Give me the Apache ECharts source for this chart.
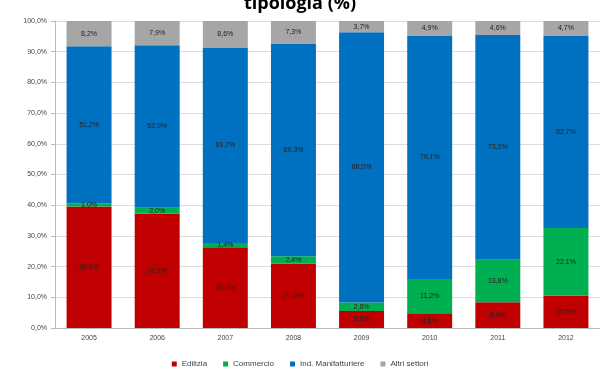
<!DOCTYPE html>
<html><head><meta charset="utf-8">
<script src="https://cdn.jsdelivr.net/npm/echarts@6/dist/echarts.min.js"></script>
<style>html,body{margin:0;padding:0;background:#fff}#c{width:600px;height:370px}</style>
</head><body><div id="c"></div>
<script>
const years = ['2005','2006','2007','2008','2009','2010','2011','2012'];
const edilizia = [39.6, 37.2, 26.3, 21.0, 5.5, 4.8, 8.4, 10.5];
const commercio = [1.0, 2.0, 1.4, 2.4, 2.8, 11.2, 13.8, 22.1];
const manifatturiere = [51.2, 52.9, 63.7, 69.3, 88.0, 79.1, 73.2, 62.7];
const altri = [8.2, 7.9, 8.6, 7.3, 3.7, 4.9, 4.6, 4.7];
const seriesNames = ['Edilizia', 'Commercio', 'Ind. Manifatturiere', 'Altri settori'];
const colors = ['#C00000', '#00B050', '#0070C0', '#A6A6A6'];
const fmt = v => v.toFixed(1).replace('.', ',') + '%';
const data = [edilizia, commercio, manifatturiere, altri];
const chart = echarts.init(document.getElementById('c'));
chart.setOption({
  animation: false,
  title: { text: 'tipologia (%)', left: 'center', top: -10, textStyle: { fontSize: 18, fontWeight: 'bold', color: '#000', fontFamily: 'Open Sans' } },
  grid: { left: 55, right: -14, top: 21, bottom: 42 },
  legend: { bottom: -3, itemWidth: 5, itemHeight: 5, itemGap: 16, icon: 'rect', textStyle: { fontSize: 8, color: '#444' }, data: seriesNames },
  xAxis: { type: 'category', data: years, axisTick: { show: false }, axisLine: { lineStyle: { color: '#bbb' } }, axisLabel: { fontSize: 7, color: '#444', margin: 7 } },
  yAxis: { type: 'value', min: 0, max: 100, interval: 10, axisLine: { show: true, lineStyle: { color: '#bbb' } }, axisTick: { show: true, length: 4, lineStyle: { color: '#bbb' } },
    axisLabel: { fontSize: 7, color: '#444', formatter: v => v.toFixed(1).replace('.', ',') + '%' },
    splitLine: { lineStyle: { color: '#ddd' } } },
  series: data.map((d, i) => ({
    name: seriesNames[i], type: 'bar', stack: 'a', data: d, barWidth: '66%',
    itemStyle: { color: colors[i] },
    label: { show: true, position: 'inside', fontSize: 7, color: '#222', formatter: p => fmt(p.value) }
  }))
});
</script></body></html>
